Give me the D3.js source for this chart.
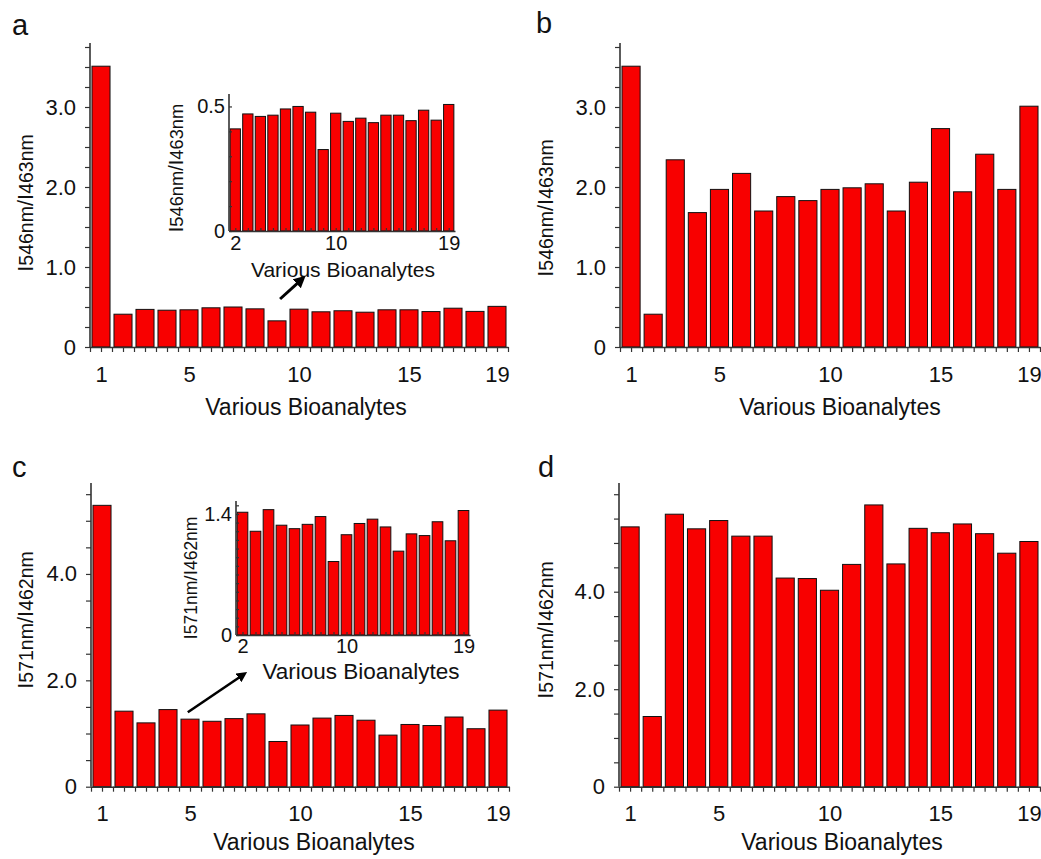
<!DOCTYPE html>
<html>
<head>
<meta charset="utf-8">
<script src="https://cdn.jsdelivr.net/npm/d3@7"></script>
<style>
  body { margin: 0; background: #fff; }
  text { font-family: "Liberation Sans", Arial, sans-serif; fill: #111; }
</style>
</head>
<body>
<script>
//data
const analytes = [1, 2, 3, 4, 5, 6, 7, 8, 9, 10, 11, 12, 13, 14, 15, 16, 17, 18, 19];
const ratioA = [3.51, 0.41, 0.47, 0.46, 0.465, 0.49, 0.5, 0.477, 0.327, 0.473, 0.44, 0.453, 0.435, 0.465, 0.465, 0.443, 0.485, 0.445, 0.508];
const ratioB = [3.51, 0.41, 2.34, 1.68, 1.97, 2.17, 1.7, 1.88, 1.83, 1.97, 1.99, 2.04, 1.7, 2.06, 2.73, 1.94, 2.41, 1.97, 3.01];
const ratioC = [5.29, 1.42, 1.2, 1.45, 1.27, 1.23, 1.28, 1.37, 0.85, 1.16, 1.29, 1.34, 1.25, 0.97, 1.17, 1.15, 1.31, 1.09, 1.44];
const ratioD = [5.33, 1.44, 5.59, 5.29, 5.46, 5.14, 5.14, 4.28, 4.27, 4.03, 4.56, 5.78, 4.57, 5.3, 5.21, 5.39, 5.19, 4.79, 5.03];
//tick labels
const xLabels = [1, 5, 10, 15, 19];
const insetXLabels = [2, 10, 19];
const yLabelsAB = [0, 1, 2, 3];
const yLabelsCD = [0, 2, 4];
const yLabelsInsetA = [0, 0.5];
const yLabelsInsetC = [0, 1.4];
const titleX = "Various Bioanalytes";
const titleYab = ["I", "546nm", "/I", "463nm"];
const titleYcd = ["I", "571nm", "/I", "462nm"];

const svg = d3.select("body").append("svg").attr("width", 1041).attr("height", 859);

svg.append("defs").append("marker")
  .attr("id", "head")
  .attr("viewBox", "0 0 10 10")
  .attr("refX", 5).attr("refY", 5)
  .attr("markerWidth", 4).attr("markerHeight", 4)
  .attr("orient", "auto")
  .append("path").attr("d", "M0,0L10,5L0,10z").attr("fill", "#000");

const fmt = (v) => (v === 0 ? "0" : v.toFixed(1));
const near = (v, list) => list.some((l) => Math.abs(l - v) < 1e-6);

//draws one bar chart (main panel or inset), returns its scales
const barChart = (o) => {
  const x = d3.scaleLinear().domain(o.xDomain).range(o.xRange);
  const y = d3.scaleLinear().domain([0, o.yMax]).range(o.yRange);
  const g = svg.append("g");
  const cats = o.cats;
  g.selectAll("rect")
    .data(o.values)
    .join("rect")
    .attr("x", (d, i) => x(cats[i] - 0.41))
    .attr("width", x(0.82) - x(0))
    .attr("y", (d) => y(d))
    .attr("height", (d) => y(0) - y(d))
    .attr("fill", "#f80000")
    .attr("stroke", "#111")
    .attr("stroke-width", 1);

  //y axis
  const yAxis = d3.axisLeft(y)
    .tickValues(d3.range(0, o.yMax + 1e-9, o.yStep))
    .tickSize(o.tick)
    .tickSizeOuter(0)
    .tickPadding(o.yPad)
    .tickFormat((v) => (near(v, o.yLabels) ? fmt(v) : ""));
  const ya = g.append("g").attr("transform", `translate(${o.xRange[0]},0)`).call(yAxis);
  //x axis
  const xAxis = d3.axisBottom(x)
    .tickValues(d3.range(o.xTick0, o.xDomain[1] + 1e-9, o.xStep))
    .tickSize(o.tick)
    .tickSizeOuter(0)
    .tickPadding(o.xPad)
    .tickFormat((v) => (near(v, o.xLabels) ? v : ""));
  const xa = g.append("g").attr("transform", `translate(0,${o.yRange[0]})`).call(xAxis);
  [ya, xa].forEach((a) => {
    a.select(".domain").attr("stroke", "#333").attr("stroke-width", 1.6);
    a.selectAll(".tick line").attr("stroke", "#333").attr("stroke-width", 1.2);
    a.selectAll("text").style("font-size", o.font + "px").attr("fill", "#111");
  });
  ya.select(".domain").attr("d", `M0,${o.yRange[0]}V${o.yRange[1]}`);

  //axis titles
  g.append("text")
    .attr("x", o.titleX[0]).attr("y", o.titleX[1])
    .attr("text-anchor", "middle")
    .style("font-size", o.titleFont + "px")
    .text(titleX);
  const t = g.append("text")
    .attr("transform", `translate(${o.titleY[0]},${o.titleY[1]}) rotate(-90)`)
    .attr("text-anchor", "middle");
  o.yTitle.forEach((s, i) => {
    t.append("tspan").style("font-size", (i % 2 === 0 ? o.yBig : o.ySmall) + "px").text(s);
  });
  return { x, y };
};

const letter = (s, x, y) =>
  svg.append("text").attr("x", x).attr("y", y).style("font-size", "29px").text(s);

const arrow = (sc, from, to, w) =>
  svg.append("line")
    .attr("x1", sc.x(from[0])).attr("y1", sc.y(from[1]))
    .attr("x2", sc.x(to[0])).attr("y2", sc.y(to[1]))
    .attr("stroke", "#000").attr("stroke-width", w)
    .attr("marker-end", "url(#head)");

const mainOpts = {
  cats: analytes, xDomain: [0.5, 19.5], xTick0: 0.5, xStep: 0.5, xLabels: xLabels,
  tick: 5, yPad: 9, xPad: 14, font: 22, titleFont: 23, yBig: 22, ySmall: 19.5,
};

//panel a
const scA = barChart(Object.assign({}, mainOpts, {
  values: ratioA, xRange: [90, 508], yMax: 3.8, yRange: [347, 43], yStep: 0.25,
  yLabels: yLabelsAB, titleX: [306, 415], titleY: [33, 203], yTitle: titleYab,
}));
barChart({
  cats: analytes.slice(1), values: ratioA.slice(1),
  xDomain: [1.5, 19.5], xTick0: 2, xRange: [229, 455], xStep: 1, xLabels: insetXLabels,
  yMax: 0.55, yRange: [231, 94], yStep: 0.1, yLabels: yLabelsInsetA,
  tick: -3, yPad: 4, xPad: 5, font: 20, titleFont: 21, yBig: 20, ySmall: 18.3,
  titleX: [343, 277], titleY: [183, 168], yTitle: titleYab,
});
arrow(scA, [9.14, 0.6], [10.1, 0.84], 3);
letter("a", 12, 35);

//panel b
barChart(Object.assign({}, mainOpts, {
  values: ratioB, xRange: [620, 1040], yMax: 3.8, yRange: [347, 43], yStep: 0.25,
  yLabels: yLabelsAB, titleX: [840, 415], titleY: [553, 208], yTitle: titleYab,
}));
letter("b", 536, 33);

//panel c
const scC = barChart(Object.assign({}, mainOpts, {
  values: ratioC, xRange: [91, 509], yMax: 5.71, yRange: [786.7, 483], yStep: 0.5,
  yLabels: yLabelsCD, titleX: [314, 850], titleY: [33, 620], yTitle: titleYcd,
}));
barChart({
  cats: analytes.slice(1), values: ratioC.slice(1),
  xDomain: [1.5, 19.5], xTick0: 2, xRange: [236, 470], xStep: 1, xLabels: insetXLabels,
  yMax: 1.55, yRange: [635, 501], yStep: 0.1, yLabels: yLabelsInsetC,
  tick: -3, yPad: 4, xPad: 4, font: 20, titleFont: 22.5, yBig: 19, ySmall: 17.5,
  titleX: [361, 679], titleY: [197, 578], yTitle: titleYcd,
});
arrow(scC, [4.9, 1.4], [7.4, 2.1], 2.6);
letter("c", 12, 477);

//panel d
barChart(Object.assign({}, mainOpts, {
  values: ratioD, xRange: [619, 1040], yMax: 6.23, yRange: [786.7, 483], yStep: 0.5,
  yLabels: yLabelsCD, titleX: [842, 850], titleY: [553, 630], yTitle: titleYcd,
}));
letter("d", 538, 477);
</script>
</body>
</html>
